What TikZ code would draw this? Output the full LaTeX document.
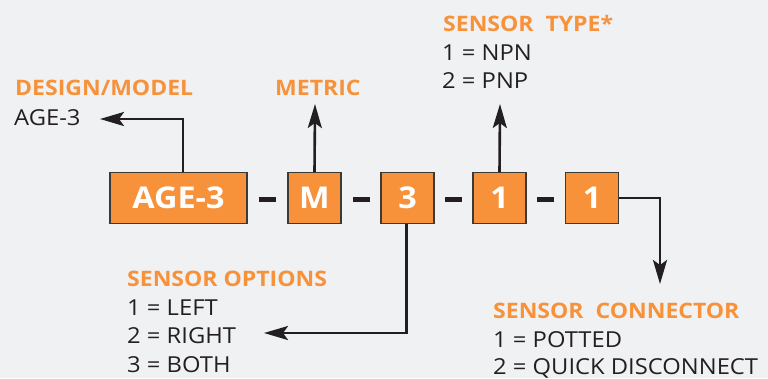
\documentclass[tikz,border=0pt]{standalone}
\usepackage{fontspec}
\setmainfont{Open Sans}[FakeStretch=1.08]
\usetikzlibrary{arrows.meta}
\definecolor{bg}{HTML}{F0F1F3}
\definecolor{org}{HTML}{F7923A}
\definecolor{ink}{HTML}{231F20}
\definecolor{edge}{HTML}{3A3A3A}
\tikzset{
  box/.style={draw=edge, line width=1.2pt, fill=org, text=white,
    font=\fontsize{30}{30}\selectfont\bfseries, minimum height=51pt, inner sep=0pt},
  sq/.style={box, minimum width=53pt},
  head/.style={anchor=base west, text=org, font=\fontsize{21.3}{21.3}\selectfont\bfseries, inner sep=0pt},
  val/.style={anchor=base west, text=ink, font=\fontsize{22}{22}\selectfont, inner sep=0pt},
  dashmark/.style={fill=ink, minimum width=17pt, minimum height=4.5pt, inner sep=0pt},
  arr/.style={draw=ink, line width=2.6pt, -{Stealth[length=24pt,width=14pt,inset=5pt]}}
}
\begin{document}
\begin{tikzpicture}[x=1pt,y=-1pt]
\fill[bg] (0,0) rectangle (768,378);
\useasboundingbox (0,0) rectangle (768,378);
% boxes
\node[box, minimum width=137pt] (age) at (178.5,198) {AGE-3};
\node[sq] (m) at (314.5,198) {M};
\node[sq] (s3) at (407.5,198) {3};
\node[sq] (t1) at (499.5,198) {1};
\node[sq] (c1) at (592,198) {1};
% dashes
\node[dashmark] (d1) at (267.5,199.5) {};
\node[dashmark] (d2) at (361,199.5) {};
\node[dashmark] (d3) at (453,199.5) {};
\node[dashmark] (d4) at (545,199.5) {};
% labels
\node[head] (dmh) at (15,95) {DESIGN/MODEL};
\node[val] (dmv) at (14,125) {AGE-3};
\node[head] (mth) at (275,95) {METRIC};
\node[head] (sth) at (443,31) {SENSOR\ \ TYPE*};
\node[val] (st1) at (442,60) {1 = NPN};
\node[val] (st2) at (442,88) {2 = PNP};
\node[head] (soh) at (127,286) {SENSOR OPTIONS};
\node[val] (so1) at (127,315) {1 = LEFT};
\node[val] (so2) at (127,343) {2 = RIGHT};
\node[val] (so3) at (127,372) {3 = BOTH};
\node[head] (sch) at (493,318) {SENSOR\ \ CONNECTOR};
\node[val] (sc1) at (493,347) {1 = POTTED};
\node[val] (sc2) at (493,374.5) {2 = QUICK DISCONNECT};
% arrow tips
\coordinate (dmtip) at (100,119);
\coordinate (mtip) at (315,104);
\coordinate (sttip) at (500,104);
\coordinate (sotip) at (264,333);
\coordinate (sctip) at (660,284);
% connectors
\draw[arr] ([xshift=4.5pt]age.north) |- (dmtip);
\draw[arr] (m.north) -- (mtip);
\draw[arr] (t1.north) -- (sttip);
\draw[arr] ([xshift=-1pt]s3.south) |- (sotip);
\draw[arr] (c1.east) -| (sctip);
\end{tikzpicture}
\end{document}
